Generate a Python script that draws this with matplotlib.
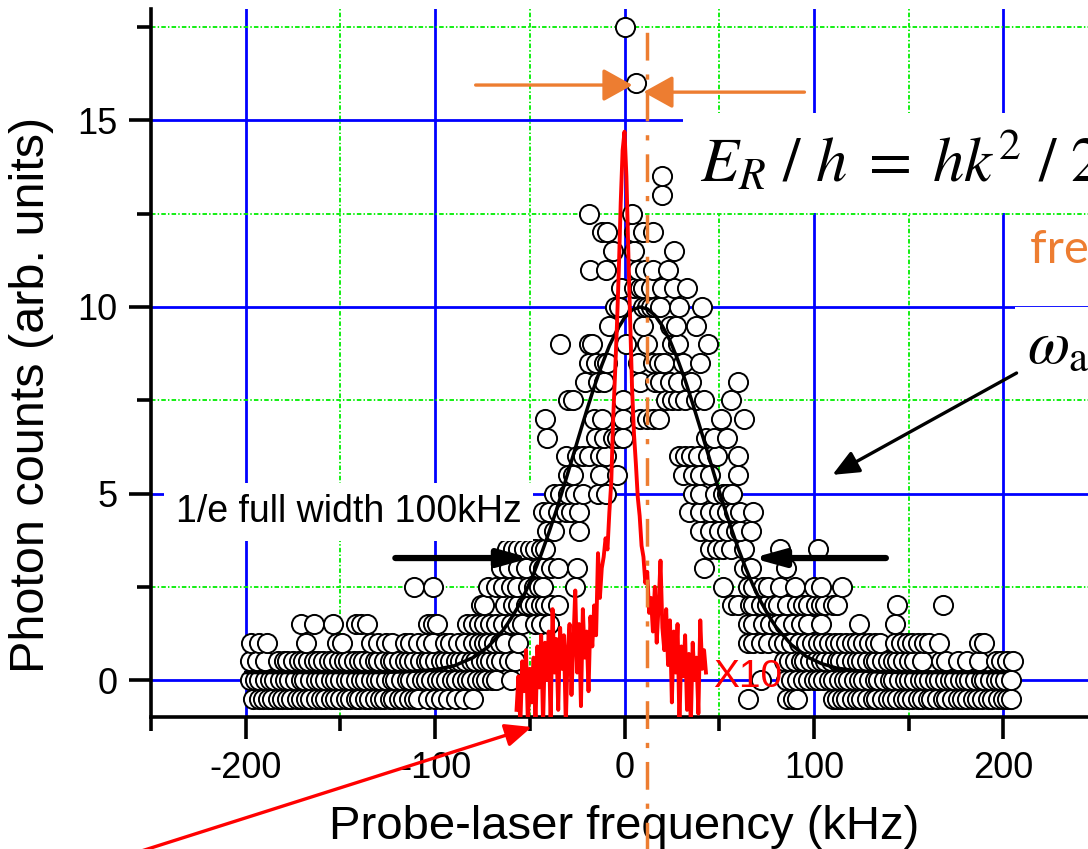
import matplotlib
matplotlib.use("Agg")
import matplotlib.pyplot as plt
from matplotlib.ticker import MultipleLocator

plt.rcParams['font.family'] = ['Liberation Sans', 'DejaVu Sans']
plt.rcParams['mathtext.fontset'] = 'stix'
plt.rcParams['axes.unicode_minus'] = False

# photon counts, grouped by count level -> probe detunings (kHz)
base_rows = {
    -0.5: [-196, -193, -191, -188, -186, -183, -181, -178, -176, -173, -171, -168, -166, -163, -160,
           -158, -155, -153, -150, -147, -145, -142, -140, -137, -135, -132, -129, -127, -124, -122,
           -119, -117, -114, -111, -109, -104, -100, -97, -93, -89, -85, -80, 65, 86, 89, 91,
           110, 112, 115, 117, 120, 123, 125, 128, 131, 133, 136, 139, 141, 144, 147, 149, 152,
           155, 157, 160, 162, 165, 168, 170, 173, 176, 178, 181, 184, 186, 189, 192, 194, 197,
           200, 202, 204],
    0.0: [-198, -195, -193, -190, -187, -185, -182, -179, -177, -174, -171, -169, -166, -163, -161,
          -158, -155, -153, -150, -147, -145, -142, -139, -137, -134, -131, -129, -126, -123, -121,
          -118, -115, -113, -110, -107, -105, -102, -99, -97, -94, -91, -89, -86, -83, -81, -78,
          -75, -73, -70, -68, -60, 72, 85, 88, 91, 94, 97, 100, 102, 105, 108, 110, 113, 116, 118,
          121, 124, 126, 129, 132, 134, 137, 140, 142, 145, 148, 150, 153, 156, 158, 161, 164, 166,
          169, 172, 174, 177, 180, 182, 185, 188, 190, 193, 196, 198, 201, 204],
    0.5: [-198, -194, -190, -183, -180, -178, -175, -172, -170, -167, -164, -162, -159, -156, -154,
          -151, -148, -146, -143, -140, -138, -135, -132, -130, -127, -124, -122, -119, -116, -114,
          -111, -108, -105, -103, -100, -97, -95, -92, -89, -87, -84, -81, -79, -76, -73, -71, -68,
          -65, -61, -58, 84, 87, 90, 93, 95, 98, 101, 104, 106, 109, 112, 114, 117, 120, 123, 125,
          128, 131, 133, 136, 139, 142, 144, 147, 150, 153, 157, 167, 170, 176, 181, 187, 196, 199,
          202, 205],
    1.0: [-197, -193, -189, -168, -152, -149, -134, -130, -126, -123, -116, -113, -109, -105, -101,
          -95, -92, -88, -84, -80, -77, -74, -72, -69, -66, -63, -56, 65, 68, 72, 76, 81, 84, 88,
          92, 96, 99, 102, 105, 108, 111, 114, 117, 120, 123, 126, 129, 132, 135, 143, 146, 149,
          152, 155, 158, 161, 166, 187, 190],
}

peak_rows = {
    1.5: [-171, -164, -154, -142, -139, -136, -104, -101, -99, -83, -80, -77, -74, -71, -68, -64,
          -60, -57, -54, -47, -44, -40, 65, 68, 73, 77, 81, 84, 89, 93, 97, 104, 124, 143],
    2.0: [-76, -74, -63, -59, -56, -52, -50, -47, -44, -42, -39, -35, 57, 60, 66, 68, 72, 75, 79,
          81, 86, 91, 94, 97, 101, 104, 106, 110, 112, 144, 168],
    2.5: [-111, -101, -72, -68, -64, -60, -57, -51, -48, -45, -43, -26, 52, 65, 68, 73, 76, 82,
          90, 100, 104, 115],
    3.0: [-65, -61, -56, -52, -45, -43, -39, -35, -25, 42, 63, 67, 85],
    3.5: [-62, -59, -56, -53, -50, -47, -44, -42, 45, 49, 52, 56, 63, 82, 102],
    4.0: [-41, -37, -24, 40, 45, 50, 54, 59, 61, 67],
    4.5: [-43, -40, -35, -31, -28, -24, 34, 40, 45, 50, 54, 58, 61, 68],
    5.0: [-37, -34, -30, -26, -22, -14, -10, 36, 40, 48, 52, 54, 57],
    5.5: [-30, -27, -13, -4, 31, 36, 40, 45, 60],
    6.0: [-31, -25, -22, -19, -13, -10, 29, 32, 35, 39, 44, 49, 60],
    6.5: [-41, -15, -11, -6, -4, -1, 43, 47, 54],
    7.0: [-42, -16, -12, -1, 8, 12, 15, 18, 51, 63],
    7.5: [-30, -27, -1, 22, 25, 28, 32, 38, 42, 56],
    8.0: [-21, -14, -11, 8, 16, 19, 24, 28, 35, 60],
    8.5: [-19, -15, -11, -9, 7, 15, 18, 21, 31, 40],
    9.0: [-34, -19, -17, 1, 12, 25, 28, 44],
    9.5: [-8, 10, 24, 27, 38],
    10.0: [-5, -3, 10, 12, 14, 16, 19, 29, 41],
    10.5: [-2, 5, 8, 10, 14, 20, 26, 33],
    11.0: [-18, -10, 7, 11, 15, 23],
    11.5: [-6, 5, 26],
    12.0: [-12, -9, 5, 10, 15],
    12.5: [-19, 4],
    13.0: [20],
    13.5: [20],
    16.0: [6],
    17.5: [0.5],
}

# gaussian fit through the counts (1/e full width 100 kHz)
fit_x = [-200, -150, -130, -115, -100, -90, -80, -72, -64, -60, -56, -52, -48, -44, -40, -36,
         -32, -28, -24, -20, -16, -12, -8, -4, 0, 4, 8, 12, 16, 20, 24, 28, 32, 36, 40, 44, 48,
         52, 56, 60, 64, 68, 72, 76, 80, 88, 96, 104, 112, 122, 135, 150, 200]
fit_y = [0.20, 0.20, 0.20, 0.22, 0.28, 0.38, 0.60, 0.89, 1.34, 1.64, 1.98, 2.39, 2.85, 3.37,
         3.94, 4.55, 5.20, 5.87, 6.55, 7.22, 7.86, 8.44, 8.96, 9.38, 9.71, 9.92, 10.0, 9.95,
         9.78, 9.49, 9.10, 8.60, 8.04, 7.41, 6.75, 6.08, 5.40, 4.74, 4.12, 3.53, 3.00, 2.52,
         2.10, 1.73, 1.42, 0.95, 0.63, 0.44, 0.32, 0.25, 0.21, 0.20, 0.20]

# narrow spectrum, scaled x10
red_x = [-57, -56, -55, -54, -53, -52, -51, -50, -49, -48, -47, -46, -45, -44, -43, -42, -41,
         -40, -39, -38, -37, -36, -35, -34, -33, -32, -31, -30, -29, -28, -27, -26, -25, -24,
         -23, -22, -21, -20, -19, -18, -17, -16, -15, -14, -13, -12, -11, -10, -9, -8, -7, -6,
         -5, -4, -3, -2, -1, 0, 1, 2, 3, 4, 5, 6, 7, 8, 9, 10, 11, 12, 13, 14, 15, 16, 17, 18,
         19, 20, 21, 22, 23, 24, 25, 26, 27, 28, 29, 30, 31, 32, 33, 34, 35, 36, 37, 38, 39, 40,
         41, 42, 43]
red_y = [-0.8, 0.1, -1.2, 0.5, -0.3, 0.8, -1.2, 0.3, -0.6, 0.6, -1.2, 0.9, -0.2, 1.2, -1.2,
         1.0, 0.0, 1.3, -1.2, 1.9, 0.2, 1.1, -0.8, 1.4, 0.3, 1.2, -1.2, 0.8, 1.5, -0.4, 1.0,
         2.4, 0.2, 1.5, -0.7, 1.9, 0.6, 1.3, -0.3, 1.7, 0.9, 2.0, 1.2, 3.4, 2.2, 3.0, 3.3, 3.8,
         3.5, 4.5, 5.3, 7.0, 8.2, 9.5, 11.0, 12.8, 14.2, 14.7, 13.5, 11.5, 9.6, 7.8, 6.6, 5.8,
         4.9, 4.4, 3.6, 3.3, 2.6, 2.9, 1.8, 2.2, 1.3, 2.5, 1.0, 2.0, 3.2, 1.4, 0.8, 1.9, 0.4,
         1.6, -0.6, 1.3, 0.2, 1.5, -1.2, 0.9, 0.1, 1.2, -0.8, 0.7, -1.2, 1.0, 0.0, 0.6, -0.9,
         1.6, 0.3, 0.8, 0.2]

recoil_shift = 12  # kHz

fig = plt.figure(figsize=(10.88, 8.49), dpi=100)
ax = fig.add_axes([0.1388, 0.1551, 0.8704, 0.8348])

ax.set_xlim(-250, 250)
ax.set_ylim(-1, 18)
ax.xaxis.set_major_locator(MultipleLocator(100))
ax.xaxis.set_minor_locator(MultipleLocator(50))
ax.yaxis.set_major_locator(MultipleLocator(5))
ax.yaxis.set_minor_locator(MultipleLocator(2.5))

ax.set_axisbelow(True)
ax.grid(which='major', color='#0000ff', lw=2.0)
ax.grid(which='minor', color='#00ee00', lw=1.3, linestyle=(0, (2.5, 1.2, 0.8, 1.2)))

for rows in (base_rows, peak_rows):
    for lvl, xs in rows.items():
        ax.scatter(xs, [lvl] * len(xs), s=190, facecolors='white', edgecolors='black',
                   linewidths=1.4, zorder=2)

ax.plot(fit_x, fit_y, color='black', lw=2.5, zorder=3)
ax.plot(red_x, red_y, color='#ff0000', lw=2.8, zorder=4)

ax.axvline(recoil_shift, ymin=-0.2, ymax=0.981, color='#ed7d31', lw=2.5,
           linestyle=(0, (8, 4, 1.5, 4)), clip_on=False, zorder=4)

for sp in ['top', 'right']:
    ax.spines[sp].set_visible(False)
for sp in ['left', 'bottom']:
    ax.spines[sp].set_linewidth(2.6)

ax.tick_params(which='major', length=16, width=2.6, labelsize=26, pad=8)
ax.tick_params(which='minor', length=10, width=2.6)

ax.set_xlabel('Probe-laser frequency (kHz)', fontsize=34, labelpad=14)
ax.set_ylabel('Photon counts (arb. units)', fontsize=35, labelpad=17, y=0.455)

# annotations
ax.text(-237, 4.24, '1/e full width 100kHz', fontsize=27, zorder=6,
        bbox=dict(boxstyle='square,pad=0.3', facecolor='white', edgecolor='none'))
ax.annotate('', xy=(-49.6, 3.27), xytext=(-121, 3.27), zorder=6,
            arrowprops=dict(arrowstyle='-|>,head_length=0.9,head_width=0.25', color='black',
                            lw=4.5, shrinkA=0, shrinkB=0, mutation_scale=20))
ax.annotate('', xy=(67.5, 3.27), xytext=(138, 3.27), zorder=6,
            arrowprops=dict(arrowstyle='-|>,head_length=0.9,head_width=0.25', color='black',
                            lw=4.5, shrinkA=0, shrinkB=0, mutation_scale=20))

ax.text(47, -0.2, 'X10', fontsize=28, color='#ff0000', zorder=6)

ax.text(40, 13.35, r'$E_R\ /\ h\;=\;hk^2\ /\ 2m$', fontsize=45, zorder=6,
        bbox=dict(boxstyle='square,pad=0.28', facecolor='white', edgecolor='none'))
ax.text(214, 11.18, 'free atom recoil', fontsize=34, color='#ed7d31', family='Lato', zorder=6)
ax.text(212.7, 8.5, r'$\omega_{\mathrm{atom}}$', fontsize=44, zorder=6,
        bbox=dict(boxstyle='square,pad=0.2', facecolor='white', edgecolor='none'))
ax.annotate('', xy=(109.8, 5.5), xytext=(207, 8.23), zorder=6,
            arrowprops=dict(arrowstyle='-|>,head_length=0.8,head_width=0.35', color='black',
                            lw=2.4, shrinkA=0, shrinkB=0, mutation_scale=20))

ax.annotate('', xy=(4.2, 15.95), xytext=(-78.6, 15.95), zorder=6,
            arrowprops=dict(arrowstyle='-|>,head_length=0.9,head_width=0.5', color='#ed7d31',
                            lw=2.4, shrinkA=0, shrinkB=0, mutation_scale=20))
ax.annotate('', xy=(10, 15.76), xytext=(95, 15.76), zorder=6,
            arrowprops=dict(arrowstyle='-|>,head_length=0.9,head_width=0.5', color='#ed7d31',
                            lw=2.4, shrinkA=0, shrinkB=0, mutation_scale=20))

ax.annotate('', xy=(-49, -1.26), xytext=(-265.4, -4.75), zorder=7, annotation_clip=False,
            arrowprops=dict(arrowstyle='-|>,head_length=0.8,head_width=0.35', color='#ff0000',
                            lw=2.4, shrinkA=0, shrinkB=0, mutation_scale=20))

fig.savefig('out.png', dpi=100)
